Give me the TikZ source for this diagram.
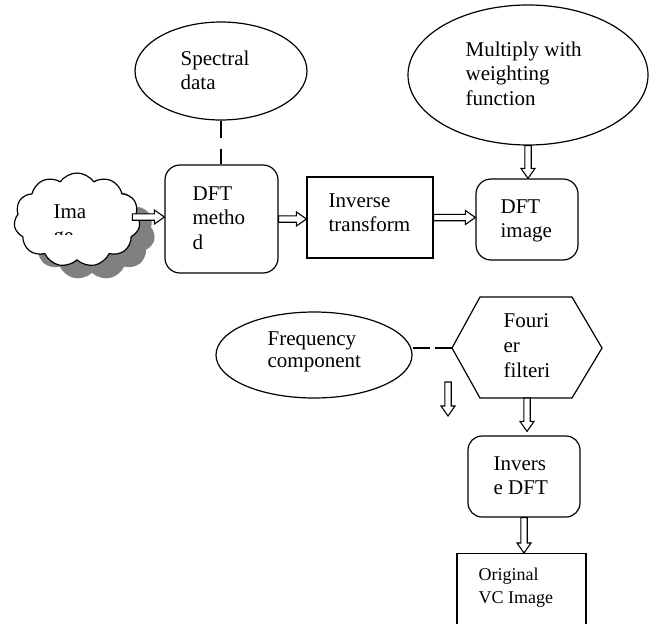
\documentclass[tikz,border=0pt]{standalone}
\usepackage{fontspec}
\setmainfont{Liberation Serif}
\usetikzlibrary{shapes.geometric,shapes.symbols,shadows,calc}
\newcommand\mlines[1]{\vtop{\halign{##\hfil\cr#1\crcr}}}
\begin{document}
\begin{tikzpicture}[x=1pt,y=-1pt,line width=1.2pt,
  txt/.style={inner sep=0pt,anchor=base west,font=\fontsize{21}{24.5}\selectfont},
  oval/.style={draw,ellipse,inner sep=0pt},
  rbox/.style={draw,rectangle,rounded corners=15pt,inner sep=0pt},
  sbox/.style={draw,rectangle,inner sep=0pt},
  blockarrow/.style={draw,fill=white,line width=1.1pt,miter limit=10,
    to path={
      ($(\tikztostart)!3.2pt!90:(\tikztotarget)$) --
      ($(\tikztotarget)!10pt!(\tikztostart)!3.2pt!90:(\tikztotarget)$) --
      ($(\tikztotarget)!10pt!(\tikztostart)!7pt!90:(\tikztotarget)$) --
      (\tikztotarget) --
      ($(\tikztotarget)!10pt!(\tikztostart)!7pt!-90:(\tikztotarget)$) --
      ($(\tikztotarget)!10pt!(\tikztostart)!3.2pt!-90:(\tikztotarget)$) --
      ($(\tikztostart)!3.2pt!-90:(\tikztotarget)$) -- cycle}}]
\useasboundingbox (0,0) rectangle (651,624);

% shapes
\node[cloud,cloud puffs=11,cloud puff arc=110,aspect=1.35,draw,fill=white,minimum width=126pt,minimum height=94pt,inner sep=0pt,
  drop shadow={shadow xshift=15pt,shadow yshift=-13pt,fill=black!50,opacity=1}] (cloud) at (77,220) {};
\node[oval,minimum width=172pt,minimum height=98pt] (spec) at (221,71) {};
\node[oval,minimum width=240pt,minimum height=140pt] (mult) at (528,75) {};
\node[oval,minimum width=196pt,minimum height=86pt] (freq) at (314,355) {};
\node[rbox,minimum width=113pt,minimum height=108pt] (dft) at (221.5,219) {};
\node[sbox,minimum width=126pt,minimum height=81pt] (inv) at (370,217.5) {};
\node[rbox,minimum width=102pt,minimum height=81pt] (dimg) at (527,219.5) {};
\node[rbox,rounded corners=14pt,minimum width=112pt,minimum height=81pt] (idft) at (524,476.5) {};
\node[sbox,minimum width=129pt,minimum height=100pt,anchor=north] (orig) at (521.5,553) {};
\coordinate (hexL) at (452,348);
\coordinate (hexB) at (527,398);
\draw (hexL) -- (480,297) -- (572,297) -- (602,348) -- (572,398) -- (480,398) -- cycle;

% texts
\begin{scope}
  \clip (40,190) rectangle (100,234.5);
  \node[txt] (tcloud) at (53,218) {\mlines{Ima\cr ge}};
\end{scope}
\node[txt] (tspec) at (180,65) {\mlines{Spectral\cr data}};
\node[txt] (tmult) at (465,56) {\mlines{Multiply with\cr weighting\cr function}};
\node[txt] (tdft) at (192,200) {\mlines{DFT\cr metho\cr d}};
\node[txt] (tinv) at (328,207) {\mlines{Inverse\cr transform}};
\node[txt] (tdimg) at (500,213) {\mlines{DFT\cr image}};
\node[txt,font=\fontsize{21}{22.5}\selectfont] (tfreq) at (267,345) {\mlines{Frequency\cr component}};
\node[txt,font=\fontsize{21}{25}\selectfont] (thex) at (503,327) {\mlines{Fouri\cr er\cr filteri}};
\node[txt] (tidft) at (493,470) {\mlines{Invers\cr e DFT}};
\node[txt,font=\fontsize{18}{23}\selectfont] (torig) at (478,580) {\mlines{Original\cr VC Image}};

% dashed links
\draw[dash pattern=on 17pt off 11pt] (spec.south) -- (spec.south |- dft.north);
\draw[dash pattern=on 17pt off 5pt] (freq.east |- hexL) -- (hexL);

% block arrows
\coordinate (c1s) at ($(dft.west)+(-32,-2)$);
\coordinate (c1e) at ($(dft.west)+(0,-2)$);
\coordinate (c2e) at (dft.east -| inv.west);
\coordinate (c3e) at (inv.east -| dimg.west);
\coordinate (c4e) at (mult.south |- dimg.north);
\coordinate (c5e) at ($(hexB |- idft.north)+(0,-4)$);
\coordinate (c6e) at (idft.south |- orig.north);
\coordinate (s1) at (448,382);
\coordinate (s2) at (448,416);
\draw[blockarrow] (c1s) to (c1e);
\draw[blockarrow] (dft.east) to (c2e);
\draw[blockarrow] (inv.east) to (c3e);
\draw[blockarrow] (mult.south) to (c4e);
\draw[blockarrow] (hexB) to (c5e);
\draw[blockarrow] (idft.south) to (c6e);
\draw[blockarrow] (s1) to (s2);
\end{tikzpicture}
\end{document}
